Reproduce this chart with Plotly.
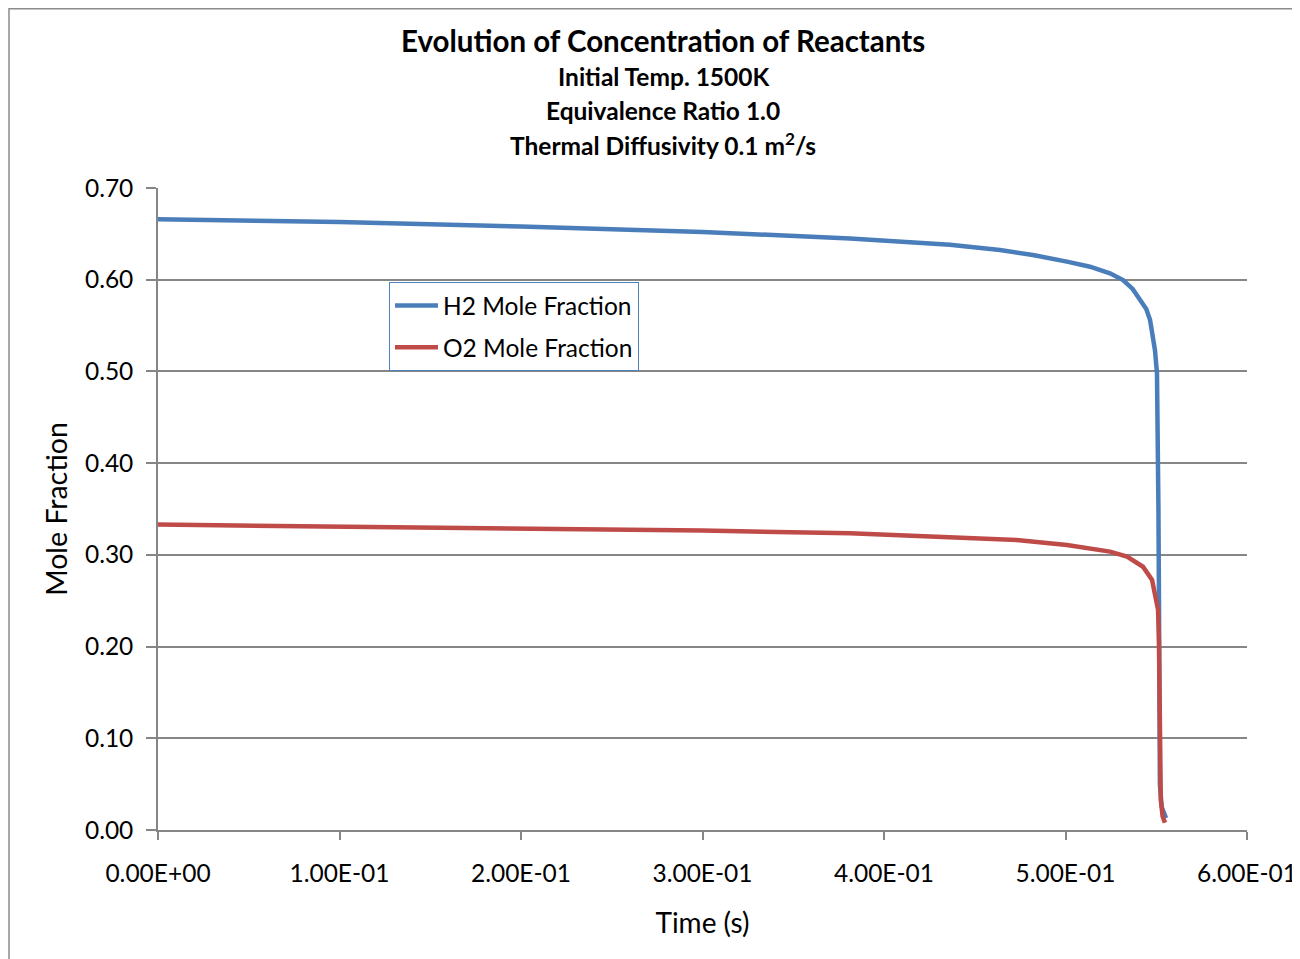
import plotly.graph_objects as go

# H2 mole fraction vs time (s)
h2_time = [0.0, 0.1, 0.2, 0.3, 0.3813, 0.4088, 0.4363, 0.4639, 0.482, 0.5008,
           0.5135, 0.5245, 0.5317, 0.537, 0.541, 0.5445, 0.5466, 0.5493, 0.5504, 0.5508,
           0.5512, 0.5515, 0.5517, 0.552, 0.553, 0.5545, 0.5554]
h2_frac = [0.666, 0.663, 0.658, 0.652, 0.645, 0.6415, 0.638, 0.6324, 0.627, 0.6197,
           0.6142, 0.607, 0.5997, 0.590, 0.578, 0.568, 0.556, 0.523, 0.498, 0.45,
           0.35, 0.25, 0.10, 0.05, 0.025, 0.016, 0.013]

# O2 mole fraction vs time (s)
o2_time = [0.0, 0.1, 0.2, 0.3, 0.3813, 0.4363, 0.4731, 0.5008, 0.5245, 0.5339,
           0.5427, 0.5477, 0.5493, 0.551, 0.5515, 0.5518, 0.552, 0.5525, 0.5535,
           0.5548]
o2_frac = [0.333, 0.331, 0.329, 0.3265, 0.3235, 0.3198, 0.3162, 0.3108, 0.3035, 0.298,
           0.287, 0.2726, 0.2584, 0.240, 0.204, 0.12, 0.06, 0.033, 0.015,
           0.008]

x_ticks = [0.0, 0.1, 0.2, 0.3, 0.4, 0.5, 0.6]
x_tick_text = ["0.00E+00", "1.00E-01", "2.00E-01", "3.00E-01", "4.00E-01", "5.00E-01", "6.00E-01"]
y_ticks = [0.0, 0.1, 0.2, 0.3, 0.4, 0.5, 0.6, 0.7]

# the page body adds an 8px offset, so margins are shifted to compensate
L, R, T, B = 150, 61, 180, 137
PW, PH = 1089, 642


def px_x(px):
    return (px - 8 - L) / PW


def px_y(py):
    return (PH + T + 8 - py) / PH


title_lines = [
    ("Evolution of Concentration of Reactants", 29.5, 41),
    ("Initial Temp. 1500K", 24.5, 77),
    ("Equivalence Ratio 1.0", 24.5, 110),
    ("Thermal Diffusivity 0.1 m<sup>2</sup>/s", 24.5, 144),
]

FONT = "Lato, Carlito, 'Open Sans', sans-serif"
GRID = "#868686"

fig = go.Figure()
fig.add_trace(go.Scatter(
    x=h2_time, y=h2_frac, mode="lines", name="H2 Mole Fraction",
    legendgroup="h2", line=dict(color="#4a7ebb", width=4.5),
))
fig.add_trace(go.Scatter(
    x=o2_time, y=o2_frac, mode="lines", name="O2 Mole Fraction",
    legendgroup="o2", line=dict(color="#be4b48", width=4.5),
))

for text, size, py in title_lines:
    fig.add_annotation(
        text=f"<b>{text}</b>", xref="paper", yref="paper", x=px_x(663), y=px_y(py),
        xanchor="center", yanchor="middle", showarrow=False,
        font=dict(size=size, color="black", family=FONT),
    )

# outer chart frame (top and left edges visible in the reference)
fig.add_shape(type="rect", xref="paper", yref="paper",
              x0=px_x(9), x1=px_x(1320),
              y0=px_y(975), y1=px_y(8.8),
              line=dict(color="#8c8c8c", width=1.5), layer="below")

fig.update_layout(
    width=1300, height=959,
    paper_bgcolor="white", plot_bgcolor="white",
    margin=dict(l=L, r=R, t=T, b=B, autoexpand=False),
    font=dict(family=FONT, size=24, color="black"),
    showlegend=True,
    legend=dict(
        x=px_x(389), y=px_y(282), xanchor="left", yanchor="top",
        bordercolor="#4f81bd", borderwidth=1, bgcolor="white",
        tracegroupgap=7, itemwidth=43, font=dict(size=24.5),
    ),
    xaxis=dict(
        range=[0, 0.6], tickvals=x_ticks, ticktext=x_tick_text,
        showgrid=False, zeroline=False, showline=True, linecolor=GRID, linewidth=1.5,
        ticks="outside", ticklen=8, tickcolor=GRID, tickwidth=1.5,
        ticklabelstandoff=13, tickfont=dict(size=24.5),
        title=dict(text="Time (s)", standoff=27, font=dict(size=28)),
    ),
    yaxis=dict(
        range=[0, 0.7], tickvals=y_ticks, tickformat=".2f",
        showgrid=True, gridcolor=GRID, gridwidth=1.5, zeroline=False,
        showline=True, linecolor=GRID, linewidth=1.5,
        ticks="outside", ticklen=10, tickcolor=GRID, tickwidth=1.5,
        ticklabelstandoff=8, tickfont=dict(size=24.5),
        title=dict(text="Mole Fraction", standoff=9, font=dict(size=28.5)),
    ),
)

fig.write_html("out.html")
